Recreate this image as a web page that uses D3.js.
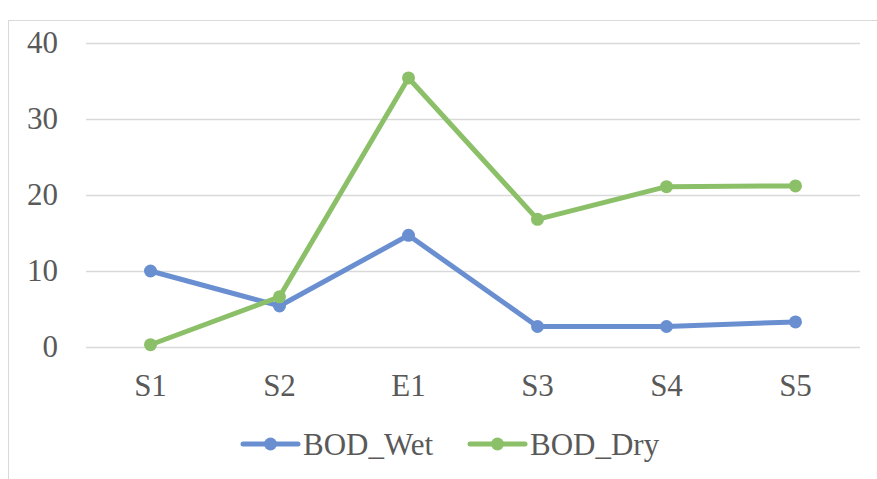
<!DOCTYPE html>
<html><head><meta charset="utf-8">
<script src="https://cdn.jsdelivr.net/npm/d3@7"></script>
<style>body{margin:0;background:#fff;} svg{display:block;}</style>
</head><body>
<svg id="chart" width="877" height="479"></svg>
<script>
const categories = ["S1","S2","E1","S3","S4","S5"];
const bodWet = [10.0, 5.4, 14.7, 2.7, 2.7, 3.3];
const bodDry = [0.3, 6.6, 35.4, 16.8, 21.1, 21.2];
const yTicks = [0, 10, 20, 30, 40];
const seriesNames = ["BOD_Wet", "BOD_Dry"];
const seriesColors = ["#6a8fd1", "#8cc068"];

const svg = d3.select("#chart");
const font = "'Liberation Serif', 'Times New Roman', serif";
const fs = "31px";

svg.append("rect").attr("x", 8.5).attr("y", 20.5).attr("width", 900).attr("height", 500)
  .attr("fill", "none").attr("stroke", "#d9d9d9").attr("stroke-width", 1);

const x = d3.scaleBand().domain(categories).range([86, 860]);
const y = d3.scaleLinear().domain([0, 40]).range([347, 43]);

const yAxis = d3.axisLeft(y).tickValues(yTicks).tickSize(-(860 - 86)).tickPadding(28);
const gy = svg.append("g").attr("transform", "translate(86,0)").call(yAxis);
gy.select(".domain").remove();
gy.selectAll(".tick line").attr("stroke", "#d9d9d9").attr("stroke-width", 1.5);
gy.selectAll(".tick text").attr("fill", "#595959").style("font-family", font).style("font-size", fs);

const xAxis = d3.axisBottom(x).tickSize(0).tickPadding(27);
const gx = svg.append("g").attr("transform", "translate(0,347)").call(xAxis);
gx.select(".domain").remove();
gx.selectAll(".tick text").attr("fill", "#595959").style("font-family", font).style("font-size", fs);

const data = [bodWet, bodDry];
const line = d3.line().x((d, i) => x(categories[i]) + x.bandwidth() / 2).y(d => y(d));
data.forEach((vals, si) => {
  svg.append("path").datum(vals).attr("d", line).attr("fill", "none")
    .attr("stroke", seriesColors[si]).attr("stroke-width", 5).attr("stroke-linejoin", "round");
  svg.selectAll(null).data(vals).enter().append("circle")
    .attr("cx", (d, i) => x(categories[i]) + x.bandwidth() / 2)
    .attr("cy", d => y(d)).attr("r", 6.5).attr("fill", seriesColors[si]);
});

const legendX = [243, 470];
seriesNames.forEach((name, i) => {
  const g = svg.append("g").attr("transform", `translate(${legendX[i]},444)`);
  g.append("line").attr("x1", 0).attr("x2", 55).attr("y1", 0).attr("y2", 0)
    .attr("stroke", seriesColors[i]).attr("stroke-width", 5).attr("stroke-linecap", "round");
  g.append("circle").attr("cx", 27.5).attr("cy", 0).attr("r", 6.5).attr("fill", seriesColors[i]);
  g.append("text").attr("x", 60).attr("y", 11).text(name)
    .attr("fill", "#595959").style("font-family", font).style("font-size", fs);
});
</script>
</body></html>
